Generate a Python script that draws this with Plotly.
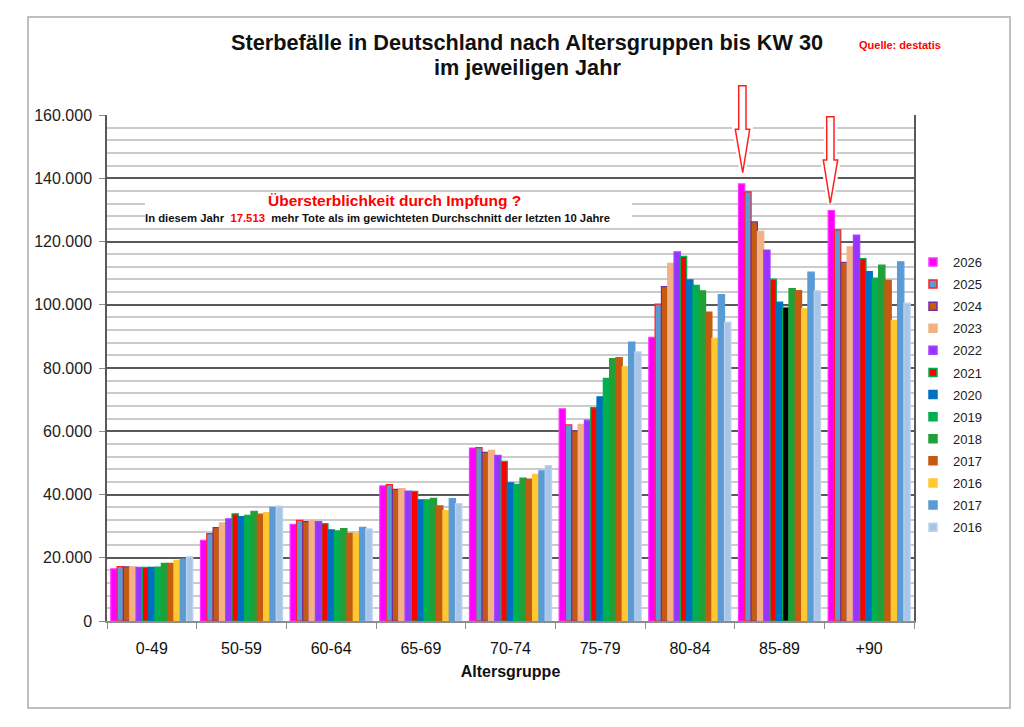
import plotly.graph_objects as go

# Altersgruppen (x-Achse)
altersgruppen = ["0-49", "50-59", "60-64", "65-69", "70-74", "75-79", "80-84", "85-89", "+90"]

# Sterbefälle bis KW 30
werte_2026 = [16500, 25500, 30600, 42700, 54700, 67100, 89700, 138200, 129800]
werte_2025 = [17200, 27600, 31800, 43100, 54800, 62000, 100200, 135700, 123700]
werte_2024 = [17100, 29500, 31400, 41600, 53300, 60100, 105700, 126200, 113400]
werte_2023 = [17100, 31000, 31700, 41900, 54000, 62200, 113100, 123200, 118300]
werte_2022 = [17000, 32300, 31400, 41100, 52400, 63500, 116700, 117300, 122000]
werte_2021 = [16950, 33900, 30800, 41000, 50500, 67500, 115300, 108100, 114600]
werte_2020 = [16950, 33000, 28800, 38300, 43700, 70900, 107900, 100800, 110500]
werte_2019 = [17050, 33400, 28500, 38300, 43200, 76700, 106100, 99200, 108400]
werte_2018 = [18200, 34700, 29200, 38800, 45200, 83000, 104400, 105100, 112500]
werte_2017 = [18200, 33800, 27700, 36400, 44900, 83300, 97700, 104500, 107700]
werte_2016 = [19200, 34300, 27700, 34900, 46400, 80400, 89400, 98700, 95100]
werte_2017b = [19600, 35900, 29600, 38700, 47500, 88200, 103200, 110300, 113600]
werte_2016b = [20300, 36300, 29100, 37100, 49100, 85100, 94500, 104400, 100500]

jahre = ["2026", "2025", "2024", "2023", "2022", "2021", "2020", "2019", "2018", "2017", "2016", "2017", "2016"]

y_ticks = [0, 20000, 40000, 60000, 80000, 100000, 120000, 140000, 160000]

reihen = [werte_2026, werte_2025, werte_2024, werte_2023, werte_2022, werte_2021, werte_2020,
          werte_2019, werte_2018, werte_2017, werte_2016, werte_2017b, werte_2016b]

farben = ["#FF00FF", "#5B9BD5", "#C55A11", "#F4B183", "#9933FF", "#FF0000", "#0070C0",
          "#00B050", "#21A038", "#C55A11", "#FFC830", "#5B9BD5", "#A8C5E8"]
randfarben = ["#FF33FF", "#FF2020", "#7030A0", "#F4B183", "#A040FF", "#00B050", "#0070C0",
              "#00B050", "#21A038", "#C55A11", "#FFC830", "#5B9BD5", "#BCD3EE"]

# Plotbereich in Bildschirm-Pixeln (Seite hat 8px Rand)
RAND = 8
PX_L, PX_R, PX_T, PX_B = 107, 914, 115, 621
BREITE, HOEHE = 1024 - 2 * RAND, 727 - 2 * RAND


def px(x, y):
    return (x - PX_L) / (PX_R - PX_L), (PX_B - y) / (PX_B - PX_T)


def pfeil(pts):
    pp = [px(x, y) for x, y in pts]
    return "M" + " L".join(f"{a:.5f},{b:.5f}" for a, b in pp) + " Z"


fig = go.Figure()

for i, werte in enumerate(reihen):
    farbe = farben[i]
    if i == 7:
        # 85-89 Balken ist in der Vorlage schwarz
        farbe = [farben[i]] * 7 + ["#000000"] + [farben[i]]
    fig.add_trace(go.Bar(
        x=altersgruppen,
        y=werte,
        name=jahre[i],
        marker=dict(color=farbe, line=dict(color=randfarben[i], width=1.2)),
        showlegend=False,
    ))
    # Legendeneintrag mit kleinem Quadrat
    fig.add_trace(go.Scatter(
        x=[None], y=[None], mode="markers", name=jahre[i],
        marker=dict(symbol="square", size=8, color=farben[i],
                    line=dict(color=randfarben[i], width=1.5)),
        legendgroup=f"g{i}",
    ))

pfeil1 = pfeil([(738.7, 85.7), (746, 85.7), (746, 129.3), (749.7, 129.3), (742.7, 172.7),
                (735.3, 129.3), (738.7, 129.3)])
pfeil2 = pfeil([(826.7, 116.7), (834, 116.7), (834, 160), (837.7, 160), (830.3, 203.3),
                (823.3, 160), (826.7, 160)])

rx0, ry0 = px(28, 708)
rx1, ry1 = px(1010, 17)
bx0, by0 = px(145, 226)
bx1, by1 = px(632, 194)

shapes = [
    dict(type="rect", xref="paper", yref="paper", x0=rx0, y0=ry0, x1=rx1, y1=ry1,
         line=dict(color="#BFBFBF", width=2), layer="below"),
    dict(type="rect", xref="paper", yref="paper", x0=bx0, y0=by0, x1=bx1, y1=by1,
         fillcolor="white", line=dict(width=0), layer="above"),
]
for p in [pfeil1, pfeil2]:
    shapes.append(dict(type="path", path=p, xref="paper", yref="paper", fillcolor="white",
                       line=dict(color="white", width=6), layer="above"))
    shapes.append(dict(type="path", path=p, xref="paper", yref="paper", fillcolor="white",
                       line=dict(color="#FF2020", width=1.5), layer="above"))


def notiz(text, x, y, size, color):
    ax, ay = px(x, y)
    return dict(text=text, xref="paper", yref="paper", x=ax, y=ay, xanchor="center",
                yanchor="middle", showarrow=False, font=dict(size=size, color=color))


fig.update_layout(
    width=BREITE, height=HOEHE,
    paper_bgcolor="white", plot_bgcolor="white",
    margin=dict(l=PX_L - RAND, r=BREITE - (PX_R - RAND), t=PX_T - RAND, b=HOEHE - (PX_B - RAND)),
    separators=",.",
    font=dict(family="Liberation Sans, Arial, sans-serif", color="#222222"),
    barmode="group", bargap=0.085, bargroupgap=0,
    xaxis=dict(
        type="category", showline=True, linecolor="#8C8C8C", linewidth=1.5,
        ticks="outside", tickson="boundaries", ticklen=6, tickcolor="#8C8C8C",
        ticklabelstandoff=12,
        tickfont=dict(size=16, color="#111111"),
        title=dict(text="<b>Altersgruppe</b>", font=dict(size=16, color="#111111"), standoff=10),
        showgrid=False,
    ),
    yaxis=dict(
        range=[0, 160000], tickvals=y_ticks, tickformat=",.0f",
        showline=True, mirror=True, linecolor="#595959", linewidth=1.5,
        ticks="outside", ticklen=6, tickcolor="#8C8C8C", ticklabelstandoff=4,
        tickfont=dict(size=16, color="#222222"),
        showgrid=True, gridcolor="#595959", gridwidth=1.5, zeroline=False,
        minor=dict(dtick=4000, showgrid=True, gridcolor="#CBCBCB", gridwidth=2),
    ),
    legend=dict(
        x=px(913, 0)[0], xanchor="left", y=px(0, 247)[1], yanchor="top",
        font=dict(size=13, color="#222222"), tracegroupgap=2.2, itemwidth=30,
        bgcolor="rgba(0,0,0,0)",
    ),
    shapes=shapes,
    annotations=[
        notiz("<b>Sterbefälle in Deutschland nach Altersgruppen bis KW 30</b>", 527, 43, 21.7, "#111111"),
        notiz("<b>im jeweiligen Jahr</b>", 527, 67, 21.7, "#111111"),
        notiz("<b>Quelle: destatis</b>", 900, 45, 11, "#FF0000"),
        notiz("<b>Übersterblichkeit durch Impfung ?</b>", 394, 200, 15.5, "#FF0000"),
        notiz("<b>In diesem Jahr  <span style='color:#FF0000'>17.513</span>  mehr Tote als im "
              "gewichteten Durchschnitt der letzten 10 Jahre</b>", 377, 218, 11.3, "#111111"),
    ],
)

fig.write_html("out.html")
